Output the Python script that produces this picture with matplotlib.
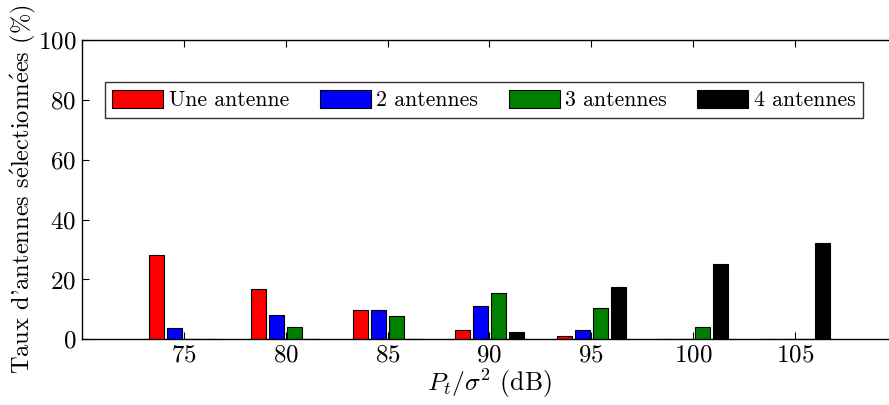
import numpy as np
import matplotlib
matplotlib.use("Agg")
import matplotlib.pyplot as plt

# Data
snr_db = [75, 80, 85, 90, 95, 100, 105]
one_antenna = [28.2, 16.8, 9.7, 3.0, 1.0, 0.0, 0.0]
two_antennas = [3.7, 8.0, 9.7, 11.1, 3.0, 0.0, 0.0]
three_antennas = [0.0, 4.0, 7.8, 15.4, 10.5, 4.0, 0.0]
four_antennas = [0.0, 0.0, 0.0, 2.4, 17.5, 25.2, 32.2]
labels = ["Une antenne", "2 antennes", "3 antennes", "4 antennes"]
colors = ["#ff0000", "#0000ff", "#008000", "#000000"]

plt.rcParams["font.family"] = ["cmr10", "DejaVu Serif"]
plt.rcParams["mathtext.fontset"] = "cm"
plt.rcParams["axes.formatter.use_mathtext"] = True

fig = plt.figure(figsize=(8.89, 4.05), dpi=100)
ax = fig.add_axes([0.0922, 0.1622, 0.9168, 0.739])

series = [one_antenna, two_antennas, three_antennas, four_antennas]
x = np.array(snr_db, dtype=float)
step = 0.884
width = 0.74
for i, (vals, lab, col) in enumerate(zip(series, labels, colors)):
    offset = (i - 1.5) * step
    ax.bar(x + offset, vals, width=width, color=col, edgecolor="black",
           linewidth=0.8, label=lab, zorder=2)

ax.set_xlim(70, 110)
ax.set_ylim(0, 100)
ax.set_xticks(snr_db)
ax.set_yticks([0, 20, 40, 60, 80, 100])
ax.tick_params(direction="in", top=True, right=True, length=5, width=0.8,
               labelsize=18, pad=4)
for s in ax.spines.values():
    s.set_linewidth(1.0)

ax.set_xlabel(r"$P_t/\sigma^2$ (dB)", fontsize=18.5, labelpad=0)
ax.set_ylabel(r"Taux d'antennes s$\mathrm{\acute{e}}$lectionn$\mathrm{\acute{e}}$es (%)",
              fontsize=17.6, labelpad=0)

leg = ax.legend(loc="upper left", bbox_to_anchor=(0.028, 0.86), ncol=4,
                fontsize=15.7, frameon=True, fancybox=False, borderaxespad=0,
                handlelength=2.34, handleheight=0.95, handletextpad=0.25,
                columnspacing=1.4, borderpad=0.35)
leg.get_frame().set_edgecolor("black")
leg.get_frame().set_linewidth(1.0)

fig.savefig("out.png", dpi=100)
